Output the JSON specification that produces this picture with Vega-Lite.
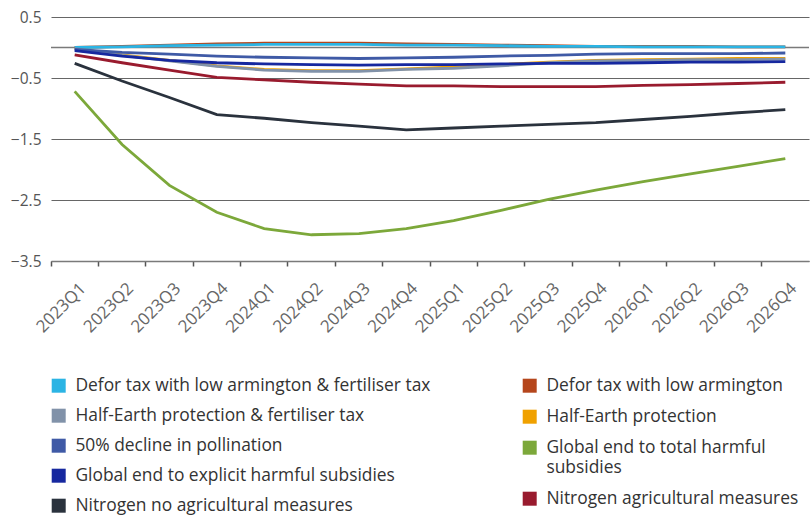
{
  "$schema": "https://vega.github.io/schema/vega-lite/v6.json",
  "width": 758,
  "height": 244,
  "autosize": "none",
  "padding": {"left": 51, "top": 17, "right": 2, "bottom": 258},
  "config": {
    "view": {"stroke": null},
    "font": "Open Sans"
  },
  "datasets": {
    "series": [
      {"s": "Defor tax with low armington & fertiliser tax", "q": "2023Q1", "v": 0.0},
      {"s": "Defor tax with low armington & fertiliser tax", "q": "2023Q2", "v": 0.01},
      {"s": "Defor tax with low armington & fertiliser tax", "q": "2023Q3", "v": 0.03},
      {"s": "Defor tax with low armington & fertiliser tax", "q": "2023Q4", "v": 0.04},
      {"s": "Defor tax with low armington & fertiliser tax", "q": "2024Q1", "v": 0.05},
      {"s": "Defor tax with low armington & fertiliser tax", "q": "2024Q2", "v": 0.05},
      {"s": "Defor tax with low armington & fertiliser tax", "q": "2024Q3", "v": 0.05},
      {"s": "Defor tax with low armington & fertiliser tax", "q": "2024Q4", "v": 0.04},
      {"s": "Defor tax with low armington & fertiliser tax", "q": "2025Q1", "v": 0.04},
      {"s": "Defor tax with low armington & fertiliser tax", "q": "2025Q2", "v": 0.03},
      {"s": "Defor tax with low armington & fertiliser tax", "q": "2025Q3", "v": 0.02},
      {"s": "Defor tax with low armington & fertiliser tax", "q": "2025Q4", "v": 0.02},
      {"s": "Defor tax with low armington & fertiliser tax", "q": "2026Q1", "v": 0.01},
      {"s": "Defor tax with low armington & fertiliser tax", "q": "2026Q2", "v": 0.01},
      {"s": "Defor tax with low armington & fertiliser tax", "q": "2026Q3", "v": 0.01},
      {"s": "Defor tax with low armington & fertiliser tax", "q": "2026Q4", "v": 0.01},

      {"s": "Defor tax with low armington", "q": "2023Q1", "v": 0.0},
      {"s": "Defor tax with low armington", "q": "2023Q2", "v": 0.02},
      {"s": "Defor tax with low armington", "q": "2023Q3", "v": 0.04},
      {"s": "Defor tax with low armington", "q": "2023Q4", "v": 0.06},
      {"s": "Defor tax with low armington", "q": "2024Q1", "v": 0.07},
      {"s": "Defor tax with low armington", "q": "2024Q2", "v": 0.07},
      {"s": "Defor tax with low armington", "q": "2024Q3", "v": 0.07},
      {"s": "Defor tax with low armington", "q": "2024Q4", "v": 0.06},
      {"s": "Defor tax with low armington", "q": "2025Q1", "v": 0.05},
      {"s": "Defor tax with low armington", "q": "2025Q2", "v": 0.04},
      {"s": "Defor tax with low armington", "q": "2025Q3", "v": 0.03},
      {"s": "Defor tax with low armington", "q": "2025Q4", "v": 0.02},
      {"s": "Defor tax with low armington", "q": "2026Q1", "v": 0.02},
      {"s": "Defor tax with low armington", "q": "2026Q2", "v": 0.02},
      {"s": "Defor tax with low armington", "q": "2026Q3", "v": 0.01},
      {"s": "Defor tax with low armington", "q": "2026Q4", "v": 0.01},

      {"s": "Half-Earth protection & fertiliser tax", "q": "2023Q1", "v": -0.02},
      {"s": "Half-Earth protection & fertiliser tax", "q": "2023Q2", "v": -0.13},
      {"s": "Half-Earth protection & fertiliser tax", "q": "2023Q3", "v": -0.22},
      {"s": "Half-Earth protection & fertiliser tax", "q": "2023Q4", "v": -0.31},
      {"s": "Half-Earth protection & fertiliser tax", "q": "2024Q1", "v": -0.37},
      {"s": "Half-Earth protection & fertiliser tax", "q": "2024Q2", "v": -0.39},
      {"s": "Half-Earth protection & fertiliser tax", "q": "2024Q3", "v": -0.39},
      {"s": "Half-Earth protection & fertiliser tax", "q": "2024Q4", "v": -0.36},
      {"s": "Half-Earth protection & fertiliser tax", "q": "2025Q1", "v": -0.34},
      {"s": "Half-Earth protection & fertiliser tax", "q": "2025Q2", "v": -0.30},
      {"s": "Half-Earth protection & fertiliser tax", "q": "2025Q3", "v": -0.25},
      {"s": "Half-Earth protection & fertiliser tax", "q": "2025Q4", "v": -0.22},
      {"s": "Half-Earth protection & fertiliser tax", "q": "2026Q1", "v": -0.21},
      {"s": "Half-Earth protection & fertiliser tax", "q": "2026Q2", "v": -0.20},
      {"s": "Half-Earth protection & fertiliser tax", "q": "2026Q3", "v": -0.20},
      {"s": "Half-Earth protection & fertiliser tax", "q": "2026Q4", "v": -0.19},

      {"s": "Half-Earth protection", "q": "2023Q1", "v": -0.02},
      {"s": "Half-Earth protection", "q": "2023Q2", "v": -0.12},
      {"s": "Half-Earth protection", "q": "2023Q3", "v": -0.21},
      {"s": "Half-Earth protection", "q": "2023Q4", "v": -0.30},
      {"s": "Half-Earth protection", "q": "2024Q1", "v": -0.36},
      {"s": "Half-Earth protection", "q": "2024Q2", "v": -0.38},
      {"s": "Half-Earth protection", "q": "2024Q3", "v": -0.38},
      {"s": "Half-Earth protection", "q": "2024Q4", "v": -0.35},
      {"s": "Half-Earth protection", "q": "2025Q1", "v": -0.32},
      {"s": "Half-Earth protection", "q": "2025Q2", "v": -0.28},
      {"s": "Half-Earth protection", "q": "2025Q3", "v": -0.24},
      {"s": "Half-Earth protection", "q": "2025Q4", "v": -0.21},
      {"s": "Half-Earth protection", "q": "2026Q1", "v": -0.20},
      {"s": "Half-Earth protection", "q": "2026Q2", "v": -0.19},
      {"s": "Half-Earth protection", "q": "2026Q3", "v": -0.18},
      {"s": "Half-Earth protection", "q": "2026Q4", "v": -0.18},

      {"s": "50% decline in pollination", "q": "2023Q1", "v": -0.03},
      {"s": "50% decline in pollination", "q": "2023Q2", "v": -0.08},
      {"s": "50% decline in pollination", "q": "2023Q3", "v": -0.11},
      {"s": "50% decline in pollination", "q": "2023Q4", "v": -0.14},
      {"s": "50% decline in pollination", "q": "2024Q1", "v": -0.16},
      {"s": "50% decline in pollination", "q": "2024Q2", "v": -0.17},
      {"s": "50% decline in pollination", "q": "2024Q3", "v": -0.18},
      {"s": "50% decline in pollination", "q": "2024Q4", "v": -0.17},
      {"s": "50% decline in pollination", "q": "2025Q1", "v": -0.16},
      {"s": "50% decline in pollination", "q": "2025Q2", "v": -0.14},
      {"s": "50% decline in pollination", "q": "2025Q3", "v": -0.13},
      {"s": "50% decline in pollination", "q": "2025Q4", "v": -0.11},
      {"s": "50% decline in pollination", "q": "2026Q1", "v": -0.10},
      {"s": "50% decline in pollination", "q": "2026Q2", "v": -0.10},
      {"s": "50% decline in pollination", "q": "2026Q3", "v": -0.10},
      {"s": "50% decline in pollination", "q": "2026Q4", "v": -0.09},

      {"s": "Global end to total harmful subsidies", "q": "2023Q1", "v": -0.72},
      {"s": "Global end to total harmful subsidies", "q": "2023Q2", "v": -1.59},
      {"s": "Global end to total harmful subsidies", "q": "2023Q3", "v": -2.26},
      {"s": "Global end to total harmful subsidies", "q": "2023Q4", "v": -2.70},
      {"s": "Global end to total harmful subsidies", "q": "2024Q1", "v": -2.97},
      {"s": "Global end to total harmful subsidies", "q": "2024Q2", "v": -3.07},
      {"s": "Global end to total harmful subsidies", "q": "2024Q3", "v": -3.05},
      {"s": "Global end to total harmful subsidies", "q": "2024Q4", "v": -2.97},
      {"s": "Global end to total harmful subsidies", "q": "2025Q1", "v": -2.84},
      {"s": "Global end to total harmful subsidies", "q": "2025Q2", "v": -2.67},
      {"s": "Global end to total harmful subsidies", "q": "2025Q3", "v": -2.49},
      {"s": "Global end to total harmful subsidies", "q": "2025Q4", "v": -2.34},
      {"s": "Global end to total harmful subsidies", "q": "2026Q1", "v": -2.20},
      {"s": "Global end to total harmful subsidies", "q": "2026Q2", "v": -2.07},
      {"s": "Global end to total harmful subsidies", "q": "2026Q3", "v": -1.95},
      {"s": "Global end to total harmful subsidies", "q": "2026Q4", "v": -1.82},

      {"s": "Global end to explicit harmful subsidies", "q": "2023Q1", "v": -0.05},
      {"s": "Global end to explicit harmful subsidies", "q": "2023Q2", "v": -0.14},
      {"s": "Global end to explicit harmful subsidies", "q": "2023Q3", "v": -0.21},
      {"s": "Global end to explicit harmful subsidies", "q": "2023Q4", "v": -0.25},
      {"s": "Global end to explicit harmful subsidies", "q": "2024Q1", "v": -0.27},
      {"s": "Global end to explicit harmful subsidies", "q": "2024Q2", "v": -0.28},
      {"s": "Global end to explicit harmful subsidies", "q": "2024Q3", "v": -0.29},
      {"s": "Global end to explicit harmful subsidies", "q": "2024Q4", "v": -0.28},
      {"s": "Global end to explicit harmful subsidies", "q": "2025Q1", "v": -0.28},
      {"s": "Global end to explicit harmful subsidies", "q": "2025Q2", "v": -0.27},
      {"s": "Global end to explicit harmful subsidies", "q": "2025Q3", "v": -0.26},
      {"s": "Global end to explicit harmful subsidies", "q": "2025Q4", "v": -0.26},
      {"s": "Global end to explicit harmful subsidies", "q": "2026Q1", "v": -0.25},
      {"s": "Global end to explicit harmful subsidies", "q": "2026Q2", "v": -0.24},
      {"s": "Global end to explicit harmful subsidies", "q": "2026Q3", "v": -0.24},
      {"s": "Global end to explicit harmful subsidies", "q": "2026Q4", "v": -0.23},

      {"s": "Nitrogen agricultural measures", "q": "2023Q1", "v": -0.12},
      {"s": "Nitrogen agricultural measures", "q": "2023Q2", "v": -0.25},
      {"s": "Nitrogen agricultural measures", "q": "2023Q3", "v": -0.37},
      {"s": "Nitrogen agricultural measures", "q": "2023Q4", "v": -0.49},
      {"s": "Nitrogen agricultural measures", "q": "2024Q1", "v": -0.53},
      {"s": "Nitrogen agricultural measures", "q": "2024Q2", "v": -0.57},
      {"s": "Nitrogen agricultural measures", "q": "2024Q3", "v": -0.60},
      {"s": "Nitrogen agricultural measures", "q": "2024Q4", "v": -0.63},
      {"s": "Nitrogen agricultural measures", "q": "2025Q1", "v": -0.63},
      {"s": "Nitrogen agricultural measures", "q": "2025Q2", "v": -0.64},
      {"s": "Nitrogen agricultural measures", "q": "2025Q3", "v": -0.64},
      {"s": "Nitrogen agricultural measures", "q": "2025Q4", "v": -0.64},
      {"s": "Nitrogen agricultural measures", "q": "2026Q1", "v": -0.62},
      {"s": "Nitrogen agricultural measures", "q": "2026Q2", "v": -0.61},
      {"s": "Nitrogen agricultural measures", "q": "2026Q3", "v": -0.59},
      {"s": "Nitrogen agricultural measures", "q": "2026Q4", "v": -0.57},

      {"s": "Nitrogen no agricultural measures", "q": "2023Q1", "v": -0.26},
      {"s": "Nitrogen no agricultural measures", "q": "2023Q2", "v": -0.55},
      {"s": "Nitrogen no agricultural measures", "q": "2023Q3", "v": -0.82},
      {"s": "Nitrogen no agricultural measures", "q": "2023Q4", "v": -1.10},
      {"s": "Nitrogen no agricultural measures", "q": "2024Q1", "v": -1.16},
      {"s": "Nitrogen no agricultural measures", "q": "2024Q2", "v": -1.23},
      {"s": "Nitrogen no agricultural measures", "q": "2024Q3", "v": -1.29},
      {"s": "Nitrogen no agricultural measures", "q": "2024Q4", "v": -1.35},
      {"s": "Nitrogen no agricultural measures", "q": "2025Q1", "v": -1.32},
      {"s": "Nitrogen no agricultural measures", "q": "2025Q2", "v": -1.29},
      {"s": "Nitrogen no agricultural measures", "q": "2025Q3", "v": -1.26},
      {"s": "Nitrogen no agricultural measures", "q": "2025Q4", "v": -1.23},
      {"s": "Nitrogen no agricultural measures", "q": "2026Q1", "v": -1.18},
      {"s": "Nitrogen no agricultural measures", "q": "2026Q2", "v": -1.13},
      {"s": "Nitrogen no agricultural measures", "q": "2026Q3", "v": -1.07},
      {"s": "Nitrogen no agricultural measures", "q": "2026Q4", "v": -1.02}
    ],
    "zero": [{"v": 0}]
  },
  "layer": [
    {
      "data": {"name": "zero"},
      "mark": {"type": "rule", "color": "#7a7a7a", "strokeWidth": 1.5},
      "encoding": {
        "y": {"field": "v", "type": "quantitative", "title": null, "scale": {"domain": [-3.5, 0.5], "nice": false, "zero": false}}
      }
    },
    {
      "data": {"name": "series"},
      "transform": [{"filter": {"field": "s", "oneOf": ["Defor tax with low armington", "Half-Earth protection", "Global end to total harmful subsidies", "Nitrogen agricultural measures"]}}],
      "mark": {"type": "line", "strokeWidth": 2.8},
      "encoding": {
        "x": {
          "field": "q", "type": "ordinal", "title": null,
          "scale": {"type": "band", "paddingInner": 0, "paddingOuter": 0},
          "axis": {
            "bandPosition": 0, "domainColor": "#7a7a7a", "domainWidth": 1.5,
            "tickColor": "#555555", "tickWidth": 1.5, "tickSize": 5,
            "labelAngle": -45, "labelAlign": "right", "labelBaseline": "top",
            "labelFontSize": 17, "labelColor": "#666666", "labelPadding": 14,
            "labelOffset": 3, "labelFont": "Open Sans", "grid": false
          }
        },
        "y": {
          "field": "v", "type": "quantitative", "title": null,
          "scale": {"domain": [-3.5, 0.5], "nice": false, "zero": false},
          "axis": {
            "values": [0.5, -0.5, -1.5, -2.5, -3.5], "domain": false, "ticks": false,
            "gridColor": "#666666", "gridWidth": 1.2, "labelFontSize": 15.5,
            "labelColor": "#555555", "labelPadding": 10, "labelFont": "Open Sans",
            "labelBaseline": "middle"
          }
        },
        "stroke": {
          "field": "s", "type": "nominal", "title": null,
          "scale": {
            "domain": ["Defor tax with low armington", "Half-Earth protection", "Global end to total harmful subsidies", "Nitrogen agricultural measures"],
            "range": ["#b5461c", "#f0a100", "#7ca83a", "#991b2e"]
          },
          "legend": {
            "orient": "none", "legendX": 470, "legendY": 360, "direction": "vertical",
            "rowPadding": 12, "symbolType": "square", "symbolSize": 196, "symbolStrokeWidth": 0,
            "labelFontSize": 17.4, "labelColor": "#333333", "labelFont": "Open Sans",
            "labelOffset": 8, "labelLimit": 500,
            "labelExpr": "datum.label == 'Global end to total harmful subsidies' ? ['Global end to total harmful', 'subsidies'] : datum.label",
            "encode": {
              "symbols": {"update": {"fill": {"scale": "stroke", "field": "value"}, "fillOpacity": {"value": 1}}},
              "labels": {"update": {"lineHeight": {"value": 20}}}
            }
          }
        }
      }
    },
    {
      "data": {"name": "series"},
      "transform": [{"filter": {"field": "s", "oneOf": ["Defor tax with low armington & fertiliser tax", "Half-Earth protection & fertiliser tax", "50% decline in pollination", "Global end to explicit harmful subsidies", "Nitrogen no agricultural measures"]}}],
      "mark": {"type": "line", "strokeWidth": 2.8},
      "encoding": {
        "x": {"field": "q", "type": "ordinal", "title": null},
        "y": {"field": "v", "type": "quantitative", "title": null},
        "color": {
          "field": "s", "type": "nominal", "title": null,
          "scale": {
            "domain": ["Defor tax with low armington & fertiliser tax", "Half-Earth protection & fertiliser tax", "50% decline in pollination", "Global end to explicit harmful subsidies", "Nitrogen no agricultural measures"],
            "range": ["#2bb4e4", "#8192a9", "#3f5aa6", "#16289f", "#2a323d"]
          },
          "legend": {
            "orient": "none", "legendX": -1, "legendY": 360, "direction": "vertical",
            "rowPadding": 11, "symbolType": "square", "symbolSize": 196, "symbolStrokeWidth": 0,
            "labelFontSize": 17.4, "labelColor": "#333333", "labelFont": "Open Sans",
            "labelOffset": 8, "labelLimit": 500,
            "encode": {
              "symbols": {"update": {"fill": {"scale": "color", "field": "value"}, "fillOpacity": {"value": 1}}}
            }
          }
        }
      }
    }
  ]
}
